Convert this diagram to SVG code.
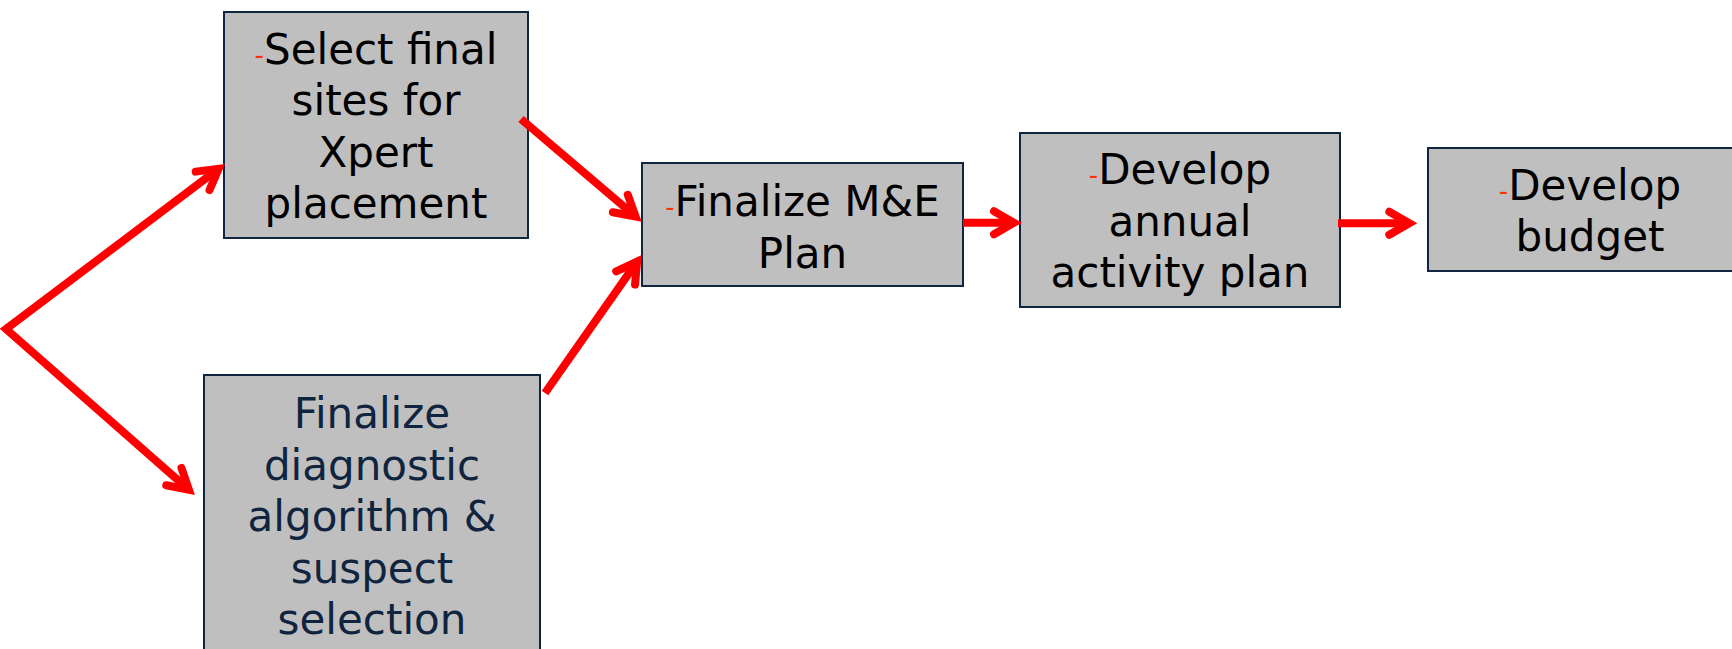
<svg xmlns="http://www.w3.org/2000/svg" width="1732" height="649" viewBox="0 0 1732 649">
  <style>
    .box { fill: #BFBFBF; stroke: #10253F; stroke-width: 2; }
    .lbl { font-family: "DejaVu Sans", Verdana, sans-serif; font-size: 42px; text-anchor: middle; fill: #000000; }
    .lbl.navy { fill: #0F243E; }
    .bul { font-size: 26px; fill: #FF3300; }
    .conn { fill: none; stroke: #FF0000; stroke-width: 8; stroke-linecap: butt; stroke-linejoin: miter; marker-end: url(#head); }
    .fork { marker-start: url(#head); }
  </style>
  <defs>
    <!-- open chevron arrowhead, drawn in user units -->
    <marker id="head" markerUnits="userSpaceOnUse" markerWidth="60" markerHeight="60" refX="0" refY="0" orient="auto-start-reverse" overflow="visible">
      <path d="M -20 -11.5 L 0 0 L -20 11.5" fill="none" stroke="#FF0000" stroke-width="8" stroke-linecap="round" stroke-linejoin="miter"/>
    </marker>
  </defs>

  <rect width="1732" height="649" fill="#FFFFFF"/>

  <g id="node-select-sites">
    <rect class="box" x="224" y="12" width="304" height="226"/>
    <text class="lbl" x="376" y="63.5"><tspan class="bul">-</tspan>Select final</text>
    <text class="lbl" x="376" y="115">sites for</text>
    <text class="lbl" x="376" y="166.5">Xpert</text>
    <text class="lbl" x="376" y="218">placement</text>
  </g>

  <g id="node-diagnostic-algorithm">
    <rect class="box" x="204" y="375" width="336" height="292"/>
    <text class="lbl navy" x="372" y="428">Finalize</text>
    <text class="lbl navy" x="372" y="479.5">diagnostic</text>
    <text class="lbl navy" x="372" y="531">algorithm &amp;</text>
    <text class="lbl navy" x="372" y="582.5">suspect</text>
    <text class="lbl navy" x="372" y="634">selection</text>
  </g>

  <g id="node-me-plan">
    <rect class="box" x="642" y="163" width="321" height="123"/>
    <text class="lbl" x="802.5" y="216"><tspan class="bul">-</tspan>Finalize M&amp;E</text>
    <text class="lbl" x="802.5" y="267.5">Plan</text>
  </g>

  <g id="node-activity-plan">
    <rect class="box" x="1020" y="133" width="320" height="174"/>
    <text class="lbl" x="1180" y="184"><tspan class="bul">-</tspan>Develop</text>
    <text class="lbl" x="1180" y="235.5">annual</text>
    <text class="lbl" x="1180" y="287">activity plan</text>
  </g>

  <g id="node-budget">
    <rect class="box" x="1428" y="148" width="324" height="123"/>
    <text class="lbl" x="1590" y="199.5"><tspan class="bul">-</tspan>Develop</text>
    <text class="lbl" x="1590" y="251">budget</text>
  </g>

  <g id="connectors">
    <!-- forked start: one stroke with a pointed corner, heads at both ends -->
    <path class="conn fork" d="M 218.6 168.8 L 6 329 L 188.9 489.8"/>
    <path class="conn" d="M 521 119 L 635.6 216.5"/>
    <path class="conn" d="M 545 393 L 637.1 261.6"/>
    <path class="conn" d="M 963 222.7 L 1014 222.7"/>
    <path class="conn" d="M 1338 223.3 L 1409.3 223.3"/>
  </g>
</svg>
